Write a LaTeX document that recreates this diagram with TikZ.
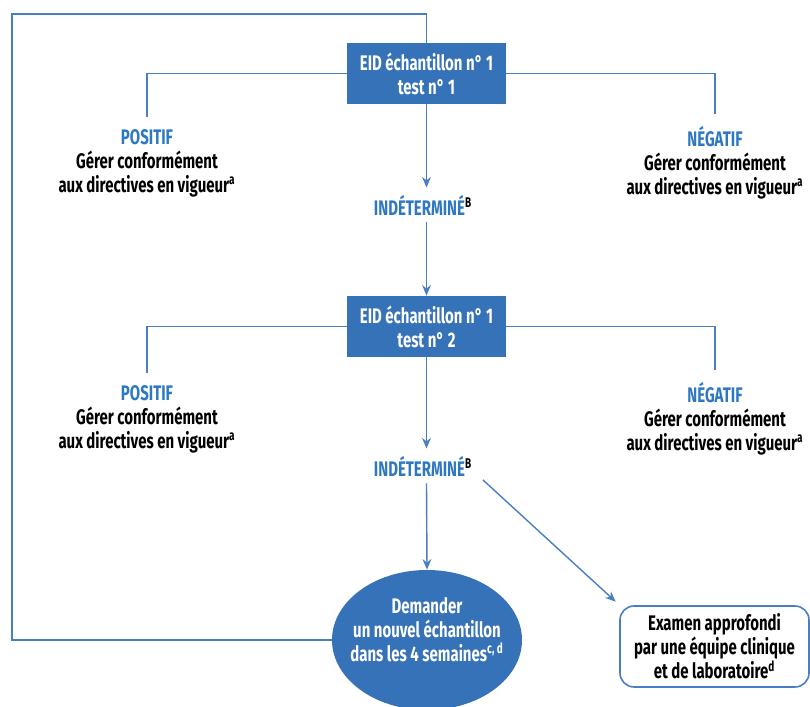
\documentclass[tikz,border=0pt]{standalone}
\usepackage{fontspec}
\setmainfont{Fira Sans}[FakeStretch=0.71]
\usetikzlibrary{shapes}
\usetikzlibrary{positioning}
\usetikzlibrary{arrows.meta}
\definecolor{eidblue}{HTML}{3572B8}
\definecolor{lineblue}{HTML}{4A7EC2}
\definecolor{txtblue}{HTML}{2E78C2}
\tikzset{
    testbox/.style = {rectangle, fill=eidblue, text=white, align=center, minimum width=3.18cm, minimum height=1.22cm, inner sep=2pt},
    result/.style = {align=center, inner sep=3pt},
    indet/.style = {text=txtblue, inner sep=4pt},
    askbox/.style = {ellipse, fill=eidblue, text=white, align=center, minimum width=3.8cm, minimum height=2.8cm, inner xsep=-6pt, inner ysep=0pt, text depth=12pt},
    exambox/.style = {rectangle, rounded corners=8pt, draw=lineblue, line width=0.9pt, align=center, minimum width=3.78cm, minimum height=1.62cm},
    wire/.style = {draw=lineblue, line width=0.8pt},
    edgen/.style = {-{Stealth[length=6pt,width=5pt]}, draw=lineblue, line width=0.8pt},
    every picture/.style={font issue=\bfseries\fontsize{12}{13.6}},
    font issue/.style={execute at begin picture={#1\selectfont}}
}
\newcommand{\respos}{{\color{txtblue}POSITIF}}
\newcommand{\resneg}{{\color{txtblue}NÉGATIF}}
\newcommand{\gerer}{\\Gérer conformément\\aux directives en vigueur\textsuperscript{a}}

\begin{document}
\begin{tikzpicture}
\useasboundingbox (0,0) rectangle (16.2,14.12);
\node[testbox] at (8.53, 12.65) (t1) {EID échantillon n° 1\\test n° 1};
\node[testbox] at (8.53,  7.59) (t2) {EID échantillon n° 1\\test n° 2};

\node[result] at ( 2.94, 10.86) (p1) {\respos\gerer};
\node[result] at (14.30, 10.86) (n1) {\resneg\gerer};
\node[result] at ( 2.94,  5.74) (p2) {\respos\gerer};
\node[result] at (14.30,  5.74) (n2) {\resneg\gerer};

\node[indet] at (8.46, 10.02) (i1) {INDÉTERMINÉ\textsuperscript{\color{black}B}};
\node[indet] at (8.46,  4.80) (i2) {INDÉTERMINÉ\textsuperscript{\color{black}B}};

\node[askbox] at (8.54, 1.32) (ask) {Demander\\un nouvel échantillon\\dans les 4 semaines\textsuperscript{c, d}};
\node[exambox] at (14.29, 1.19) (exam) {Examen approfondi\\par une équipe clinique\\et de laboratoire\textsuperscript{d}};

\coordinate (loop) at (0.24, 13.84);
%
\draw[wire] (t1.west) -| ([yshift=4pt]p1.north);
\draw[wire] (t1.east) -| ([yshift=4pt]n1.north);
\draw[wire] (t2.west) -| ([yshift=4pt]p2.north);
\draw[wire] (t2.east) -| ([yshift=4pt]n2.north);
\draw[edgen] (t1.south) -- (t1.south |- i1.north);
\draw[edgen] (t1.south |- i1.south) -- (t2.north);
\draw[edgen] (t2.south) -- (t2.south |- i2.north);
\draw[edgen] (t2.south |- i2.south) -- (ask.north);
\draw[edgen] ([xshift=2pt,yshift=2pt]i2.south east) -- ([xshift=-2pt,yshift=2pt]exam.north west);
\draw[wire] (ask.west) -| (loop) -| (t1.north);
\end{tikzpicture}
\end{document}
